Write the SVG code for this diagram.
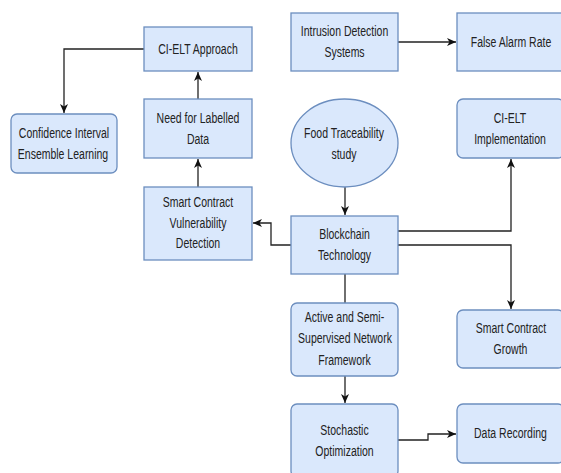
<svg xmlns="http://www.w3.org/2000/svg" width="561" height="473" viewBox="0 0 561 473">
<style>
.n{fill:#dae8fc;stroke:#6c8ebf;stroke-width:1.3}
.t{font-family:"Liberation Sans",Arial,sans-serif;font-size:15px;fill:#222;text-anchor:middle}
.c{fill:none;stroke:#222;stroke-width:1.3}
</style>
<defs>
<marker id="ah" markerUnits="userSpaceOnUse" markerWidth="10" markerHeight="10" refX="9" refY="4" orient="auto" viewBox="0 0 10 8">
<path d="M0,0 L9,4 L0,8 L2.5,4 z" fill="#111"/>
</marker>
</defs>
<rect width="561" height="473" fill="#fff"/>
<g id="connectors">
<path class="c" d="M144,49 H64 V113" marker-end="url(#ah)"/>
<path class="c" d="M198,99 V72" marker-end="url(#ah)"/>
<path class="c" d="M198,187 V159" marker-end="url(#ah)"/>
<path class="c" d="M291,245 H271 V223 H253" marker-end="url(#ah)"/>
<path class="c" d="M345,187 V215" marker-end="url(#ah)"/>
<path class="c" d="M398,42 H456" marker-end="url(#ah)"/>
<path class="c" d="M398,231 H511 V159" marker-end="url(#ah)"/>
<path class="c" d="M398,245 H511 V309" marker-end="url(#ah)"/>
<path class="c" d="M345,274 V303"/>
<path class="c" d="M345,376 V403" marker-end="url(#ah)"/>
<path class="c" d="M398,440 H428 V434 H456" marker-end="url(#ah)"/>
</g>
<g id="ci-elt-approach">
<rect class="n" x="144" y="27" width="108" height="44"/>
<text class="t" transform="matrix(0.7,0,0,1,198,0)" x="0" y="54.5">CI-ELT Approach</text>
</g>
<g id="need-labelled">
<rect class="n" x="144" y="99" width="108" height="59"/>
<text class="t" transform="matrix(0.7,0,0,1,198,0)" x="0" y="123.5">Need for Labelled</text>
<text class="t" transform="matrix(0.7,0,0,1,198,0)" x="0" y="144.5">Data</text>
</g>
<g id="confidence-interval">
<rect class="n" x="11" y="114" width="106" height="59" rx="6"/>
<text class="t" transform="matrix(0.7,0,0,1,64,0)" x="0" y="138.5">Confidence Interval</text>
<text class="t" transform="matrix(0.7,0,0,1,63,0)" x="0" y="159.5">Ensemble Learning</text>
</g>
<g id="scvd">
<rect class="n" x="144" y="187" width="108" height="73"/>
<text class="t" transform="matrix(0.7,0,0,1,198,0)" x="0" y="207.5">Smart Contract</text>
<text class="t" transform="matrix(0.7,0,0,1,198,0)" x="0" y="228.5">Vulnerability</text>
<text class="t" transform="matrix(0.7,0,0,1,198,0)" x="0" y="248.5">Detection</text>
</g>
<g id="ids">
<rect class="n" x="291" y="13" width="107" height="58"/>
<text class="t" transform="matrix(0.7,0,0,1,344.5,0)" x="0" y="36.5">Intrusion Detection</text>
<text class="t" transform="matrix(0.7,0,0,1,344.5,0)" x="0" y="57.5">Systems</text>
</g>
<g id="false-alarm">
<rect class="n" x="457" y="13" width="107" height="58"/>
<text class="t" transform="matrix(0.7,0,0,1,511,0)" x="0" y="47.5">False Alarm Rate</text>
</g>
<g id="food-traceability">
<ellipse class="n" cx="344.5" cy="143" rx="53.5" ry="44"/>
<text class="t" transform="matrix(0.7,0,0,1,344,0)" x="0" y="138.5">Food Traceability</text>
<text class="t" transform="matrix(0.7,0,0,1,344,0)" x="0" y="159.5">study</text>
</g>
<g id="ci-elt-impl">
<rect class="n" x="457" y="99" width="107" height="59" rx="6"/>
<text class="t" transform="matrix(0.7,0,0,1,510,0)" x="0" y="123.5">CI-ELT</text>
<text class="t" transform="matrix(0.7,0,0,1,510,0)" x="0" y="144.5">Implementation</text>
</g>
<g id="blockchain">
<rect class="n" x="291" y="216" width="107" height="58"/>
<text class="t" transform="matrix(0.7,0,0,1,344.5,0)" x="0" y="239.5">Blockchain</text>
<text class="t" transform="matrix(0.7,0,0,1,344.5,0)" x="0" y="260.5">Technology</text>
</g>
<g id="active-semi">
<rect class="n" x="291" y="303" width="107" height="73" rx="6"/>
<text class="t" transform="matrix(0.7,0,0,1,344.5,0)" x="0" y="322.5">Active and Semi-</text>
<text class="t" transform="matrix(0.7,0,0,1,345,0)" x="0" y="343.5">Supervised Network</text>
<text class="t" transform="matrix(0.7,0,0,1,344.5,0)" x="0" y="365.5">Framework</text>
</g>
<g id="sc-growth">
<rect class="n" x="457" y="310" width="107" height="58" rx="6"/>
<text class="t" transform="matrix(0.7,0,0,1,511,0)" x="0" y="333.5">Smart Contract</text>
<text class="t" transform="matrix(0.7,0,0,1,510.5,0)" x="0" y="354.5">Growth</text>
</g>
<g id="stochastic">
<rect class="n" x="291" y="404" width="107" height="73" rx="6"/>
<text class="t" transform="matrix(0.7,0,0,1,344.5,0)" x="0" y="435.5">Stochastic</text>
<text class="t" transform="matrix(0.7,0,0,1,344.5,0)" x="0" y="456.5">Optimization</text>
</g>
<g id="data-recording">
<rect class="n" x="457" y="404" width="107" height="59" rx="6"/>
<text class="t" transform="matrix(0.7,0,0,1,510.5,0)" x="0" y="438.5">Data Recording</text>
</g>
</svg>
